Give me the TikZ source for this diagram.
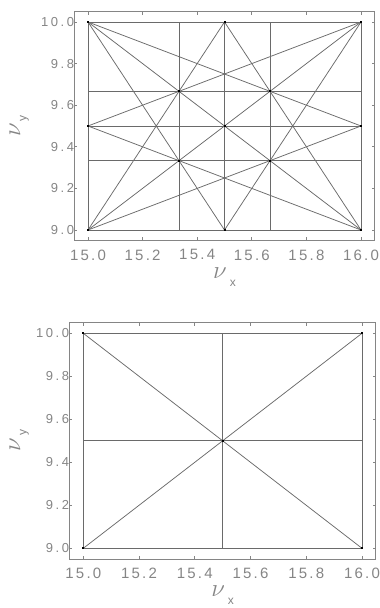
\documentclass[tikz,border=0pt]{standalone}
\usepackage{fontspec}
\usepackage{amsmath}
\usetikzlibrary{positioning}
\newfontfamily\xtickfont[LetterSpace=15]{Liberation Sans}
\newfontfamily\ytickfont[LetterSpace=20]{Liberation Sans}
\newfontfamily\subfont{Liberation Sans}
\definecolor{ax-gray}{HTML}{858585}
\definecolor{ln-gray}{HTML}{6A6A6A}

\tikzset{
  axbox/.style={ax-gray, line width=0.9pt},
  tickmark/.style={ax-gray, line width=0.8pt},
  resline/.style={ln-gray, line width=0.75pt},
  xlab/.style={ax-gray, font=\fontsize{15}{15}\xtickfont, anchor=north, inner sep=0pt},
  ylab/.style={ax-gray, font=\fontsize{13}{13}\ytickfont, anchor=east, inner sep=0pt},
  nulab/.style={ax-gray, inner sep=0pt},
}

% frame, ticks and tick labels of one tune diagram (data shifted to 0..1)
\newcommand{\tuneframe}{%
  \draw[axbox] (-0.05,-0.05) rectangle (1.05,1.05);
  \foreach \t [count=\i from 0] in {15.0,15.2,15.4,15.6,15.8,16.0} {
    \draw[tickmark] (\i*0.2,-0.05) -- ++(0,3pt);
    \draw[tickmark] (\i*0.2,1.05) -- ++(0,-3pt);
    \node[xlab] (xt\i) at ([yshift=-9pt]\i*0.2,-0.05) {\t};
  }
  \foreach \t [count=\i from 0] in {9.0,9.2,9.4,9.6,9.8,10.0} {
    \draw[tickmark] (-0.05,\i*0.2) -- ++(3pt,0);
    \draw[tickmark] (1.05,\i*0.2) -- ++(-3pt,0);
    \node[ylab] (yt\i) at ([xshift=0pt]-0.05,\i*0.2) {\t};
  }
}
\newcommand{\nux}{{\fontsize{26}{26}\selectfont$\nu$}\hspace{3pt}\raisebox{-8pt}{\fontsize{12}{12}\subfont x}}
\newcommand{\nuy}{{\fontsize{26}{26}\selectfont$\nu$}\hspace{2pt}\raisebox{-6pt}{\fontsize{12}{12}\subfont y}}

\begin{document}
\begin{tikzpicture}[x=1pt, y=1pt]
  \useasboundingbox (0,0) rectangle (380,608);

  % upper diagram: resonances up to third order
  \begin{scope}[shift={(88,378)}, x=273pt, y=208pt]
    \tuneframe
    \draw[resline] (0,0) rectangle (1,1);
    \foreach \g in {1/3,0.5,2/3} {
      \draw[resline] (\g,0) -- (\g,1);
      \draw[resline] (0,\g) -- (1,\g);
    }
    \draw[resline] (0,1) -- (1,0);
    \draw[resline] (0,0) -- (1,1);
    \draw[resline] (0,1) -- (0.5,0);
    \draw[resline] (0.5,1) -- (1,0);
    \draw[resline] (0,0) -- (0.5,1);
    \draw[resline] (0.5,0) -- (1,1);
    \draw[resline] (0,0.5) -- (1,0);
    \draw[resline] (0,1) -- (1,0.5);
    \draw[resline] (0,0.5) -- (1,1);
    \draw[resline] (0,0) -- (1,0.5);
    \foreach \p in {(0,0),(1,0),(0,1),(1,1),(0.5,0),(0.5,1),(0,0.5),(1,0.5),
                    (1/3,1/3),(1/3,2/3),(2/3,1/3),(2/3,2/3),(0.5,0.5)}
      \fill[black] \p ++(-1pt,-1pt) rectangle ++(2pt,2pt);
    \node[nulab] (nux1) at ([yshift=-37pt]0.5,-0.05) {\nux};
    \node[nulab, rotate=90] (nuy1) at ([xshift=-55pt]-0.05,0.5) {\nuy};
  \end{scope}

  % lower diagram: resonances up to second order
  \begin{scope}[shift={(83.3,59.7)}, x=278.7pt, y=215pt]
    \tuneframe
    \draw[resline] (0,0) rectangle (1,1);
    \draw[resline] (0.5,0) -- (0.5,1);
    \draw[resline] (0,0.5) -- (1,0.5);
    \draw[resline] (0,1) -- (1,0);
    \draw[resline] (0,0) -- (1,1);
    \foreach \p in {(0,0),(1,0),(0,1),(1,1),(0.5,0.5)}
      \fill[black] \p ++(-1pt,-1pt) rectangle ++(2pt,2pt);
    \node[nulab] (nux2) at ([yshift=-36pt]0.5,-0.05) {\nux};
    \node[nulab, rotate=90] (nuy2) at ([xshift=-50pt]-0.05,0.5) {\nuy};
  \end{scope}
\end{tikzpicture}
\end{document}
